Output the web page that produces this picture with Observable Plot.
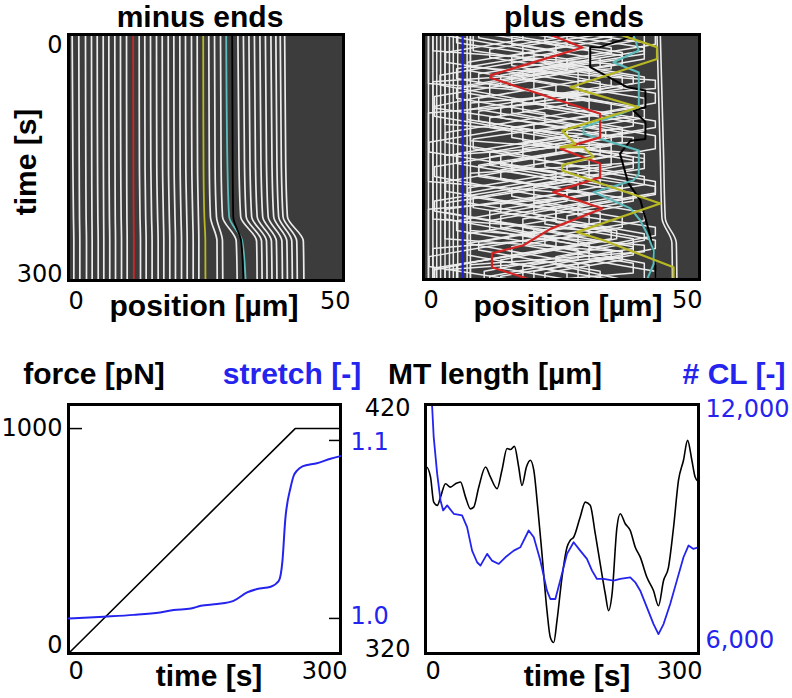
<!DOCTYPE html>
<html><head><meta charset="utf-8">
<script src="https://cdn.jsdelivr.net/npm/d3@7"></script>
<script src="https://cdn.jsdelivr.net/npm/@observablehq/plot@0.6"></script>
<style>
body{margin:0;background:#fff;}
#root{position:relative;width:792px;height:698px;overflow:hidden;background:#fff;font-family:"Liberation Sans",Arial,sans-serif;}
.lbl{position:absolute;font-weight:bold;font-size:30px;line-height:26px;white-space:nowrap;transform:translateX(-50%);color:#000;}
.ttl{line-height:normal;}
.blue{color:#2424ee;}
</style></head><body><div id="root"></div>
<script>
// ---------------- DATA ----------------
// minus-end kymograph: x positions (µm) of each line at these times (s)
const minusTimes = [0, 160, 222, 252, 300];
const minusWhite = [
  [0.67,0.8,0.9,0.97,0.97],[1.87,1.95,2.0,2.06,2.06],[3.09,3.15,3.2,3.27,3.27],[4.18,4.22,4.26,4.3,4.3],
  [5.22,5.28,5.34,5.4,5.4],[6.31,6.35,6.39,6.42,6.42],[7.33,7.38,7.44,7.5,7.5],[8.42,8.46,8.5,8.55,8.55],
  [9.45,9.5,9.57,9.64,9.64],[10.55,10.58,10.62,10.67,10.67],[12.85,12.9,13.0,13.09,13.09],[13.87,13.92,14.03,14.12,14.12],
  [14.91,14.97,15.1,15.2,15.2],[16.0,16.05,16.2,16.3,16.3],[17.04,17.1,17.25,17.33,17.33],[18.13,18.18,18.33,18.42,18.42],
  [19.15,19.2,19.36,19.45,19.45],[20.24,20.3,20.45,20.55,20.55],[21.27,21.33,21.5,21.58,21.58],[22.36,22.42,22.58,22.67,22.67],
  [23.4,23.46,23.62,23.7,23.7],
  [25.5,25.6,25.8,27.0,27.04],[26.55,26.65,26.9,28.0,28.05],[27.64,27.75,28.0,30.5,30.67],
  [30.8,31.0,31.3,34.2,34.3],[31.8,32.0,32.3,35.1,35.2],[32.8,33.0,33.3,36.0,36.1],[33.8,34.0,34.3,36.9,37.0],
  [34.8,35.0,35.3,37.8,37.9],[35.8,36.0,36.3,38.8,38.9],[36.8,37.0,37.3,39.7,39.8],[37.7,37.9,38.2,40.6,40.7],
  [38.5,38.7,39.0,41.5,41.6],[39.3,39.5,39.8,42.7,42.8]
];
const minusRed = [11.76,11.8,11.84,11.88,11.88];
const minusYellow = [24.49,24.55,24.7,24.88,24.9];
const minusCyan = [28.67,28.9,29.2,31.6,32.2];
const minusBlack = [29.76,29.85,29.95,31.4,31.8];

// plus-end kymograph: traces as [position µm, time s]
const plusWhite = [
  [[9,0],[9,20],[30,40],[30,55],[10,78],[10,92],[33,118],[33,128],[12,150],[12,160],[36,188],[36,198],[14,222],[14,236],[30,256],[30,266],[11,290],[11,300]],
  [[14,0],[36,22],[36,30],[16,50],[16,64],[38,88],[38,100],[9,128],[9,140],[30,164],[30,176],[9,200],[9,212],[35,240],[35,250],[14,276],[14,286],[26,300]],
  [[24,0],[40,16],[40,24],[20,44],[20,56],[2,76],[2,90],[26,114],[26,124],[6,146],[6,158],[28,182],[28,192],[4,214],[4,226],[24,250],[24,262],[2,286],[2,300]],
  [[32,0],[18,14],[18,30],[38,52],[38,60],[22,78],[22,90],[40,110],[40,118],[18,140],[18,150],[40,174],[40,184],[20,206],[20,220],[40,244],[40,252],[24,272],[24,282],[36,300]],
  [[6,0],[6,10],[26,30],[26,44],[6,66],[6,78],[22,96],[22,108],[1,132],[1,144],[24,168],[24,180],[2,204],[2,216],[20,238],[20,250],[1,272],[1,284],[16,300]],
  [[38,0],[38,8],[22,26],[22,36],[36,52],[36,66],[14,90],[14,102],[34,124],[34,136],[16,156],[16,168],[38,194],[38,204],[18,226],[18,236],[38,260],[38,270],[20,290],[20,300]],
  [[18,0],[18,6],[4,22],[4,34],[28,58],[28,70],[8,92],[8,104],[30,128],[30,138],[10,160],[10,172],[26,190],[26,204],[6,228],[6,240],[28,264],[28,276],[12,296],[12,300]],
  [[28,0],[12,18],[12,28],[34,52],[34,62],[16,82],[16,96],[36,120],[36,132],[22,148],[22,162],[42,186],[42,196],[24,216],[24,230],[42,252],[42,262],[28,280],[28,300]],
  [[42,0],[42,12],[26,30],[26,42],[8,62],[8,72],[32,98],[32,106],[20,120],[20,134],[38,154],[38,164],[16,188],[16,198],[32,218],[32,230],[10,254],[10,264],[32,290],[32,300]],
  [[12,0],[30,20],[30,32],[14,50],[14,62],[30,82],[30,92],[4,120],[4,132],[20,150],[20,162],[4,180],[4,192],[24,214],[24,226],[8,244],[8,256],[30,282],[30,300]],
  [[20,0],[34,16],[34,24],[10,48],[10,58],[26,76],[26,88],[42,106],[42,114],[24,134],[24,146],[10,162],[10,174],[36,200],[36,210],[26,222],[26,234],[8,256],[8,270],[26,292],[26,300]],
  [[26,0],[26,14],[8,34],[8,44],[24,62],[24,74],[40,92],[40,102],[26,118],[26,128],[12,144],[12,156],[32,178],[32,186],[14,208],[14,218],[34,240],[34,250],[16,270],[16,280],[34,300]],
  [[34,0],[34,6],[16,26],[16,38],[32,58],[32,70],[10,94],[10,106],[28,126],[28,138],[40,152],[40,164],[20,186],[20,196],[40,218],[40,228],[22,248],[22,258],[40,280],[40,300]],
  [[3,0],[20,20],[20,30],[3,50],[3,62],[18,80],[18,94],[36,114],[36,124],[14,148],[14,160],[36,182],[36,190],[12,216],[12,228],[28,246],[28,258],[6,282],[6,300]],
  [[16,0],[16,12],[32,30],[32,40],[12,62],[12,74],[2,88],[2,100],[18,118],[18,130],[34,150],[34,160],[8,188],[8,198],[30,222],[30,232],[18,246],[18,258],[38,280],[38,292],[24,300]],
  [[30,0],[40,10],[40,20],[18,44],[18,54],[40,78],[40,88],[20,110],[20,120],[34,136],[34,148],[26,158],[26,172],[8,194],[8,206],[22,222],[22,232],[38,250],[38,262],[18,284],[18,300]],
  [[10,0],[10,4],[24,20],[24,34],[40,52],[40,58],[26,74],[26,86],[12,102],[12,114],[32,136],[32,146],[14,166],[14,176],[30,196],[30,206],[12,228],[12,240],[36,266],[36,276],[22,292],[22,300]],
  [[22,0],[22,10],[36,26],[36,36],[20,54],[20,66],[34,84],[34,96],[16,114],[16,126],[38,150],[38,158],[28,170],[28,182],[4,206],[4,218],[18,234],[18,246],[34,264],[34,274],[14,296],[14,300]],
  [[36,0],[24,12],[24,22],[6,42],[6,54],[20,70],[20,84],[38,104],[38,112],[18,134],[18,144],[2,162],[2,174],[20,196],[20,206],[36,224],[36,236],[16,260],[16,270],[2,288],[2,300]],
  [[40,0],[40,30],[28,44],[28,56],[42,72],[42,84],[30,98],[30,110],[42,124],[42,140],[30,154],[30,166],[42,180],[42,194],[28,210],[28,222],[42,236],[42,246],[30,262],[30,276],[42,290],[42,300]],
  [[8.5,0],[8.5,40],[42,56],[42,66],[8.5,84],[8.5,130],[40,146],[40,156],[8.5,170],[8.5,240],[40,258],[40,266],[8.5,282],[8.5,300]],
  [[0.9,0],[0.9,60],[30,74],[30,80],[0.9,96],[0.9,180],[26,194],[26,200],[0.9,214],[0.9,300]],
  [[3.9,0],[3.9,110],[38,126],[38,132],[3.9,148],[3.9,250],[36,266],[36,272],[3.9,288],[3.9,300]],
  [[1.7,0],[1.7,20],[34,36],[34,42],[1.7,58],[1.7,226],[30,240],[30,246],[1.7,262],[1.7,300]]
];
const plusVertical = [0.9, 1.7, 2.4, 3.1, 3.9, 4.7, 5.4, 6.2, 7.9, 8.5];
const plusEdge = [
  [[42.3,0],[42.9,150],[43.2,225],[45.0,255],[45.1,300]],
  [[42.9,0],[43.5,150],[43.8,225],[45.8,255],[45.9,300]]
];
const plusBlue = [[7.1,0],[7.1,300]];
const plusRed = [[22.9,0],[28.8,16],[12.1,50],[12.1,53],[32,97],[32,126],[24.8,140],[32,158],[32,175],[23.5,193],[32.4,213],[23,238],[18.1,258],[12.4,268],[12.4,285],[19.3,300]];
const plusYellow = [[35.5,0],[42.3,15.5],[42.3,30],[26.6,64.5],[39,89],[25.1,118],[27.5,134],[24.8,138],[29,138],[30.8,150],[25.1,160],[25.1,166.5],[42.9,207],[27.8,242],[32.6,252],[45.3,285],[45.3,300]];
const plusCyan = [[38,0],[39,19.6],[34.4,34],[39,46.5],[39,89],[29,113.5],[29,121.6],[39,142],[39,170.6],[38,178.8],[30.8,193],[37.5,213],[39.3,228],[40.5,244],[41.7,264.5],[41.7,281],[40.5,300]];
const plusBlack = [[38,2],[32,15.5],[30.2,15.5],[30.2,40],[36.9,64.5],[40.2,68.6],[40.2,89],[38,93],[40.2,107],[40.2,128],[37.5,130],[35.6,146],[37.1,182],[39.3,203],[41.1,247],[42,283],[42,300]];

// force / stretch
const forceSeries = [[0,0],[250,1000],[300,1000]];
const stretchSeries = [[0,1.000],[39,1.001],[72,1.002],[101,1.0034],[116,1.0047],[135,1.0056],[146,1.0071],[164,1.0081],[182,1.0099],[197,1.0146],[208,1.0165],[223,1.0178],[232,1.0212],[236,1.0325],[239,1.055],[245,1.0737],[248.5,1.0803],[252,1.083],[258,1.0854],[274,1.0872],[289,1.0897],[300,1.0912]];

// MT length / crosslinkers
const mtLength = [[0,394],[1,394.9],[5.5,390.9],[9,380.8],[13,379.5],[16.5,382.8],[22,388.2],[27.4,386.8],[33,388.2],[38.4,388.9],[44,382.8],[49.4,378.1],[53,378.8],[58.5,386.8],[66,394.9],[71.3,390.9],[78.7,386.2],[84,393.6],[89.6,402.3],[93.3,401.9],[97.7,403.2],[102.4,394.9],[106,387.5],[110.9,394.9],[115.2,397.6],[119,393.6],[123.3,378.8],[128,360],[133.5,337.2],[137.2,326.4],[140.9,324.4],[144.5,333.2],[150,350.6],[155.5,362.7],[159,365.4],[162.8,366.7],[170,374.8],[175.6,380.8],[181,379.5],[186.6,368],[192,356],[197.6,343.9],[201.2,337.2],[205,343.9],[210.4,370.7],[214,376.1],[219.5,372.1],[225,369.4],[230.5,362.7],[236,358.7],[243.3,350.6],[250.6,345.2],[256,339.2],[261.6,349.3],[267,354.6],[272.6,370.7],[278,389.5],[283.5,397.6],[288,405.6],[292.7,397.6],[296.3,390.9],[300,388.9]];
const clCount = [[5,12500],[7.3,11944],[9,11219],[12.8,10333],[16.5,9689],[19.4,9447],[23.8,9568],[31,9366],[40.2,9326],[45.7,9044],[51.2,8480],[56.7,8199],[60.4,8118],[67.7,8400],[73,8239],[80.5,8158],[87.8,8319],[97,8480],[104.3,8561],[113.4,8964],[119,8802],[126.2,8239],[133.5,7514],[137.2,7313],[142.7,7313],[148,7756],[155.5,8400],[162.8,8682],[170,8480],[177.4,8279],[183,7997],[188.4,7796],[195.7,7796],[206.7,7756],[214,7796],[225,7836],[230.5,7716],[236,7514],[243.3,7111],[250.6,6709],[256,6467],[261.6,6709],[268.9,7192],[276.2,7756],[283.5,8319],[289,8601],[294.5,8520],[300,8561]];

const posTicks = [0, 50];
const timeTicks = [0, 300];
const forceTicks = [0, 1000];
const stretchTicks = [1.0, 1.1];
const mtTicks = [320, 420];
const clTicks = [6000, 12000];

// ---------------- STYLE ----------------
const BG = "#3c3c3c", WHITE = "#ececec", BLUE = "#2424ee";
const RED = "#d42424", YEL = "#b8b824", CYAN = "#5cbcbc";
const FS = 24;
const plain = d => String(d);
const comma = d => d3.format(",")(d);
const oneDec = d => d3.format(".1f")(d);
const baseStyle = {background: "none", overflow: "visible", fontFamily: "'DejaVu Sans', sans-serif", color: "#000"};
const root = document.getElementById("root");
function place(el, left, top) {
  el.style.position = "absolute"; el.style.left = left + "px"; el.style.top = top + "px";
  root.appendChild(el);
}
function label(text, cx, top, cls) {
  const d = document.createElement("div");
  d.className = "lbl" + (cls ? " " + cls : "");
  d.textContent = text; d.style.left = cx + "px"; d.style.top = top + "px";
  root.appendChild(d);
  return d;
}
const rowsFromKnots = (lines, times) => lines.flatMap((xs, i) => xs.map((x, k) => ({id: i, x, t: times[k]})));
const rowsFromTraces = (traces) => traces.flatMap((tr, i) => tr.map(([x, t]) => ({id: i, x, t})));

// ---------------- PANEL 1: minus ends ----------------
const p1 = Plot.plot({
  width: 396, height: 340, marginLeft: 68, marginRight: 53, marginTop: 34, marginBottom: 60,
  x: {domain: [0, 50]}, y: {domain: [0, 300], reverse: true},
  style: baseStyle,
  marks: [
    Plot.frame({fill: BG}),
    Plot.line(rowsFromKnots(minusWhite, minusTimes), {x: "x", y: "t", z: "id", stroke: WHITE, strokeWidth: 1.7, curve: "monotone-y", clip: true}),
    Plot.line(rowsFromKnots([minusRed], minusTimes), {x: "x", y: "t", stroke: RED, strokeWidth: 1.8, curve: "monotone-y", clip: true}),
    Plot.line(rowsFromKnots([minusYellow], minusTimes), {x: "x", y: "t", stroke: YEL, strokeWidth: 1.8, curve: "monotone-y", clip: true}),
    Plot.line(rowsFromKnots([minusCyan], minusTimes), {x: "x", y: "t", stroke: CYAN, strokeWidth: 1.8, curve: "monotone-y", clip: true}),
    Plot.line(rowsFromKnots([minusBlack], minusTimes), {x: "x", y: "t", stroke: "#000", strokeWidth: 1.8, curve: "monotone-y", clip: true}),
    Plot.frame({stroke: "#000", strokeWidth: 3}),
    Plot.axisX([posTicks[0]], {anchor: "bottom", tickSize: 0, tickPadding: 11, textAnchor: "start", fontSize: FS, tickFormat: plain, label: null}),
    Plot.axisX([posTicks[1]], {anchor: "bottom", tickSize: 0, tickPadding: 11, textAnchor: "end", dx: 7, fontSize: FS, tickFormat: plain, label: null}),
    Plot.axisY([timeTicks[0]], {anchor: "left", tickSize: 0, tickPadding: 6, dy: 11, fontSize: FS, tickFormat: plain, label: null}),
    Plot.axisY([timeTicks[1]], {anchor: "left", tickSize: 0, tickPadding: 6, dy: -6, fontSize: FS, tickFormat: plain, label: null})
  ]
});
place(p1, 0, 0);

// ---------------- PANEL 2: plus ends ----------------
const p2 = Plot.plot({
  width: 392, height: 340, marginLeft: 23, marginRight: 93, marginTop: 34, marginBottom: 61,
  x: {domain: [0, 50]}, y: {domain: [0, 300], reverse: true, axis: null},
  style: baseStyle,
  marks: [
    Plot.frame({fill: BG}),
    Plot.ruleX(plusVertical, {stroke: WHITE, strokeWidth: 1.5}),
    Plot.line(rowsFromTraces(plusWhite), {x: "x", y: "t", z: "id", stroke: WHITE, strokeWidth: 1.5, clip: true}),
    Plot.line(rowsFromTraces(plusEdge), {x: "x", y: "t", z: "id", stroke: WHITE, strokeWidth: 1.6, curve: "monotone-y", clip: true}),
    Plot.line(rowsFromTraces([plusBlack]), {x: "x", y: "t", stroke: "#000", strokeWidth: 2, clip: true}),
    Plot.line(rowsFromTraces([plusCyan]), {x: "x", y: "t", stroke: CYAN, strokeWidth: 2, clip: true}),
    Plot.line(rowsFromTraces([plusRed]), {x: "x", y: "t", stroke: RED, strokeWidth: 2.2, clip: true}),
    Plot.line(rowsFromTraces([plusYellow]), {x: "x", y: "t", stroke: YEL, strokeWidth: 2.2, clip: true}),
    Plot.line(rowsFromTraces([plusBlue]), {x: "x", y: "t", stroke: "#2020dd", strokeWidth: 2.2, clip: true}),
    Plot.frame({stroke: "#000", strokeWidth: 3}),
    Plot.axisX([posTicks[0]], {anchor: "bottom", tickSize: 0, tickPadding: 11, textAnchor: "start", fontSize: FS, tickFormat: plain, label: null}),
    Plot.axisX([posTicks[1]], {anchor: "bottom", tickSize: 0, tickPadding: 11, textAnchor: "end", dx: 3, fontSize: FS, tickFormat: plain, label: null})
  ]
});
place(p2, 400, 0);

// ---------------- PANEL 3: force / stretch ----------------
const dim3 = {width: 396, height: 338, marginLeft: 68, marginRight: 56, marginTop: 44, marginBottom: 45};
const p3a = Plot.plot({
  ...dim3,
  x: {domain: [0, 300]}, y: {domain: [0, 1107]},
  style: baseStyle,
  marks: [
    Plot.line(forceSeries, {x: d => d[0], y: d => d[1], stroke: "#000", strokeWidth: 1.6}),
    Plot.frame({stroke: "#000", strokeWidth: 3}),
    Plot.axisY([forceTicks[1]], {anchor: "left", tickSize: 14, dx: 14, fill: "none", strokeWidth: 1.5, label: null}),
    Plot.axisY([forceTicks[1]], {anchor: "left", tickSize: 0, tickPadding: 6, fontSize: FS, tickFormat: plain, label: null}),
    Plot.axisY([forceTicks[0]], {anchor: "left", tickSize: 0, tickPadding: 6, dy: -8, fontSize: FS, tickFormat: plain, label: null}),
    Plot.axisX([timeTicks[0]], {anchor: "bottom", tickSize: 0, tickPadding: 8, textAnchor: "start", fontSize: FS, tickFormat: plain, label: null}),
    Plot.axisX([timeTicks[1]], {anchor: "bottom", tickSize: 0, tickPadding: 8, textAnchor: "end", dx: 7, fontSize: FS, tickFormat: plain, label: null})
  ]
});
place(p3a, 0, 360);
const p3b = Plot.plot({
  ...dim3,
  x: {domain: [0, 300], axis: null}, y: {domain: [0.9803, 1.1202]},
  style: baseStyle,
  marks: [
    Plot.line(stretchSeries, {x: d => d[0], y: d => d[1], stroke: BLUE, strokeWidth: 2, curve: "monotone-x"}),
    Plot.axisY(stretchTicks, {anchor: "right", tickSize: 12, dx: -12, fill: "none", strokeWidth: 1.5, label: null}),
    Plot.axisY([stretchTicks[1]], {anchor: "right", tickSize: 0, tickPadding: 10, dy: 2, fontSize: FS, fill: BLUE, tickFormat: oneDec, label: null}),
    Plot.axisY([stretchTicks[0]], {anchor: "right", tickSize: 0, tickPadding: 10, dy: -2, fontSize: FS, fill: BLUE, tickFormat: oneDec, label: null})
  ]
});
place(p3b, 0, 360);

// ---------------- PANEL 4: MT length / # CL ----------------
const dim4 = {width: 432, height: 338, marginLeft: 65, marginRight: 94, marginTop: 44, marginBottom: 45};
const p4a = Plot.plot({
  ...dim4,
  x: {domain: [0, 300]}, y: {domain: [320, 420]},
  style: baseStyle,
  marks: [
    Plot.line(mtLength, {x: d => d[0], y: d => d[1], stroke: "#000", strokeWidth: 1.6, curve: "monotone-x", clip: true}),
    Plot.axisY([mtTicks[1]], {anchor: "left", tickSize: 0, tickPadding: 15, dy: 4, fontSize: FS, tickFormat: plain, label: null}),
    Plot.axisY([mtTicks[0]], {anchor: "left", tickSize: 0, tickPadding: 15, dy: -4, fontSize: FS, tickFormat: plain, label: null}),
    Plot.axisX([timeTicks[0]], {anchor: "bottom", tickSize: 0, tickPadding: 8, textAnchor: "start", fontSize: FS, tickFormat: plain, label: null}),
    Plot.axisX([timeTicks[1]], {anchor: "bottom", tickSize: 0, tickPadding: 8, textAnchor: "end", dx: 4, fontSize: FS, tickFormat: plain, label: null})
  ]
});
place(p4a, 360, 360);
const p4b = Plot.plot({
  ...dim4,
  x: {domain: [0, 300], axis: null}, y: {domain: [6000, 12000]},
  style: baseStyle,
  marks: [
    Plot.line(clCount, {x: d => d[0], y: d => d[1], stroke: BLUE, strokeWidth: 1.8, clip: true}),
    Plot.frame({stroke: "#000", strokeWidth: 3}),
    Plot.axisY([clTicks[1]], {anchor: "right", tickSize: 0, tickPadding: 7, dy: 5, fontSize: FS, fill: BLUE, tickFormat: comma, label: null}),
    Plot.axisY([clTicks[0]], {anchor: "right", tickSize: 0, tickPadding: 7, dy: -13, fontSize: FS, fill: BLUE, tickFormat: comma, label: null})
  ]
});
place(p4b, 360, 360);

// ---------------- TEXT LABELS ----------------
label("minus ends", 200, 0, "ttl");
label("plus ends", 574, 0, "ttl");
label("position [µm]", 204, 293);
label("position [µm]", 568, 293);
const tl = label("time [s]", 0, 0);
tl.style.left = "26px"; tl.style.top = "162px";
tl.style.transform = "translate(-50%,-50%) rotate(-90deg)";
label("force [pN]", 94, 360.5);
label("stretch [-]", 292, 360.5, "blue");
label("MT length [µm]", 495, 360.5);
label("# CL [-]", 734, 360.5, "blue");
label("time [s]", 209, 663);
label("time [s]", 577, 663);
</script></body></html>
